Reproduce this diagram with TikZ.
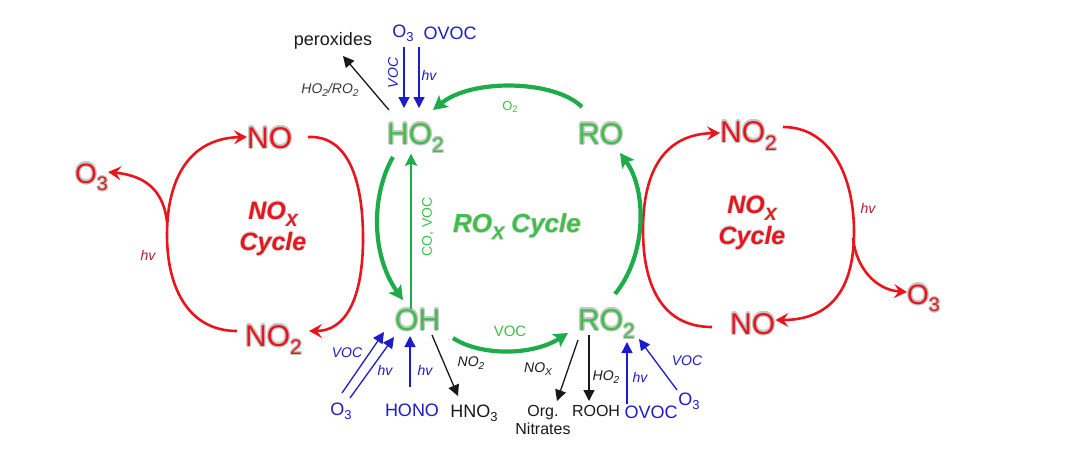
\documentclass[tikz,border=0pt]{standalone}
\usepackage{fontspec}
\setmainfont{Liberation Sans}
\usepackage{contour}
\usetikzlibrary{arrows.meta}
\definecolor{cred}{RGB}{232,22,28}
\definecolor{cgreen}{RGB}{30,172,75}
\definecolor{cgreentxt}{RGB}{62,192,72}
\definecolor{cblue}{RGB}{28,28,200}
\definecolor{cdred}{RGB}{175,30,45}
\definecolor{cblack}{RGB}{25,25,25}
\contourlength{1.1pt}
\newcommand\lowsub[1]{\raisebox{-0.28em}{\scalebox{0.7}{#1}}}
\newcommand\ssub[1]{\raisebox{-0.22em}{\scalebox{0.72}{#1}}}
\begin{document}
\begin{tikzpicture}[x=1pt,y=-1pt,
  big/.style={inner sep=0pt, anchor=base west, font=\fontsize{30}{36}\selectfont},
  redspc/.style={big, text=cred},
  grnspc/.style={big, text=cgreentxt},
  cyc/.style={inner sep=0pt, align=center, font=\fontsize{25}{29}\selectfont\bfseries\itshape},
  lab/.style={inner sep=0pt, font=\fontsize{14}{16}\selectfont\itshape},
  chem/.style={inner sep=0pt, font=\fontsize{18}{20}\selectfont},
  smallchem/.style={inner sep=0pt, font=\fontsize{16}{18}\selectfont, align=center},
  redarr/.style={draw=cred, line width=2.6pt, -{Stealth[length=13pt,width=14pt,inset=5pt]}},
  grnarr/.style={draw=cgreen, line width=4.2pt, -{Stealth[length=14pt,width=15pt,inset=3pt]}},
  grnthin/.style={draw=cgreen, line width=2.6pt, -{Stealth[length=12pt,width=12pt,inset=2pt]}},
  bluearr/.style={draw=cblue, line width=1.3pt, -{Triangle[length=11pt,width=11pt]}},
  blkarr/.style={draw=cblack, line width=1.3pt, -{Triangle[length=11pt,width=11pt]}}
]
\useasboundingbox[fill=white] (0,0) rectangle (1080,459);

% ---------- species ----------
\node[redspc] (NOl) at (247,148) {\contour{gray!45}{NO}};
\node[redspc] (NO2l) at (245,346) {\contour{gray!45}{NO\lowsub{2}}};
\node[redspc, font=\fontsize{28}{32}\selectfont] (O3l) at (75,183) {\contour{gray!45}{O\lowsub{3}}};
\node[grnspc] (HO2) at (387,144) {\contour{gray!45}{HO\lowsub{2}}};
\node[grnspc] (RO) at (578,144) {\contour{gray!45}{RO}};
\node[grnspc] (OH) at (395,330) {\contour{gray!45}{OH}};
\node[grnspc] (RO2) at (578,330) {\contour{gray!45}{RO\lowsub{2}}};
\node[redspc] (NO2r) at (720,142) {\contour{gray!45}{NO\lowsub{2}}};
\node[redspc] (NOr) at (730,334) {\contour{gray!45}{NO}};
\node[redspc, font=\fontsize{28}{32}\selectfont] (O3r) at (907,304) {\contour{gray!45}{O\lowsub{3}}};

% cycle titles
\node[cyc, text=cred] (cycl) at (273,229) {\contourlength{0.5pt}\contour{gray!30}{NO\lowsub{X}}\\[2pt]\contourlength{0.5pt}\contour{gray!30}{Cycle}};
\node[cyc, text=cred] (cycr) at (752,223) {\contourlength{0.5pt}\contour{gray!30}{NO\lowsub{X}}\\[2pt]\contourlength{0.5pt}\contour{gray!30}{Cycle}};
\node[cyc, text=cgreentxt, font=\fontsize{26}{30}\selectfont\bfseries\itshape] (cycg) at (517,227) {\contourlength{0.5pt}\contour{gray!30}{RO\lowsub{X} Cycle}};

% ---------- red NOx cycle (left) ----------
\coordinate (lb) at (167,222);
\coordinate (lt) at (309,331);
\draw[redarr] (308,137) .. controls (348,135) and (363,180) .. (363,238) .. controls (363,300) and (345,331) .. (lt);
\draw[redarr] (237,331) .. controls (190,331) and (167,290) .. (167,235) .. controls (167,175) and (192,138) .. (NOl.west |- 0,137);
\draw[redarr] (lb) .. controls (164,195) and (150,176) .. (O3l.east |- 0,172);
\node[lab, text=cdred] (hvl) at (148,255) {hv};

% ---------- red NOx cycle (right) ----------
\coordinate (rb) at (853,238);
\draw[redarr] (712,327) .. controls (665,327) and (643,290) .. (643,230) .. controls (643,170) and (665,134) .. (NO2r.west |- 0,133);
\draw[redarr] (783,127) .. controls (830,127) and (854,175) .. (854,232) .. controls (854,290) and (830,320) .. (NOr.east |- 0,320);
\draw[redarr] (rb) .. controls (856,268) and (876,290) .. (O3r.west |- 0,292);
\node[lab, text=cdred] (hvr) at (868,208) {hv};

% ---------- green ROx cycle ----------
\draw[grnarr] (582,107) .. controls (555,80) and (472,78) .. (433,110);
\node[inner sep=0pt, text=cgreentxt, font=\fontsize{13}{15}\selectfont] (o2lab) at (510,107) {O\ssub{2}};
\draw[grnarr] (393,157) .. controls (371,195) and (371,255) .. (403,300);
\draw[grnthin] (OH.north -| 411,0) -- (HO2.south -| 411,0);
\node[inner sep=0pt, text=cgreentxt, font=\fontsize{14}{16}\selectfont, rotate=90] (covoc) at (428,227) {CO, VOC};
\draw[grnarr] (453,338) .. controls (480,356) and (532,356) .. (568,333);
\node[inner sep=0pt, text=cgreentxt, font=\fontsize{15}{17}\selectfont] (voclab) at (510,331) {VOC};
\draw[grnarr] (615,294) .. controls (647,255) and (647,190) .. (620,153);

% ---------- top of HO2 ----------
\node[chem, text=cblue] (O3t) at (403,33) {O\ssub{3}};
\node[chem, text=cblue] (OVOCt) at (450,33) {OVOC};
\node[chem, text=cblack] (perox) at (333,41) {peroxides};
\coordinate (t1) at (404,108);
\coordinate (t2) at (419,108);
\draw[bluearr] (404,47) -- (t1);
\draw[bluearr] (419,47) -- (t2);
\node[lab, text=cblue, rotate=90] (vocT) at (393,73) {VOC};
\node[lab, text=cblue] (hvT) at (429,75) {hv};
\coordinate (px) at (389,110);
\draw[blkarr] (px) -- (343,56);
\node[lab, text=cblack!85] (hr) at (330,90) {HO\ssub{2}/RO\ssub{2}};

% ---------- below OH ----------
\node[chem, text=cblue] (O3b) at (341,411) {O\ssub{3}};
\node[chem, text=cblue] (HONO) at (412,410) {HONO};
\node[chem, text=cblack] (HNO3) at (474,413) {HNO\ssub{3}};
\draw[bluearr] (342,393) -- (384,332);
\draw[bluearr] (350,398) -- (394,337);
\node[lab, text=cblue] (vocO) at (347,353) {VOC};
\node[lab, text=cblue] (hvO) at (385,370) {hv};
\draw[bluearr] (410,387) -- (410,336);
\node[lab, text=cblue] (hvH) at (425,370) {hv};
\draw[blkarr] (432,335) -- (458,396);
\node[lab, text=cblack] (no2lab) at (471,363) {NO\ssub{2}};

% ---------- below RO2 ----------
\node[smallchem, text=cblack] (orgn) at (543,420) {Org.\\Nitrates};
\node[smallchem, text=cblack] (ROOH) at (596,411) {ROOH};
\node[chem, text=cblue] (OVOCb) at (651,412) {OVOC};
\node[chem, text=cblue] (O3c) at (689,401) {O\ssub{3}};
\draw[blkarr] (578,340) -- (557,401);
\node[lab, text=cblack] (noxlab) at (538,369) {NO\ssub{X}};
\draw[blkarr] (589,335) -- (589,401);
\node[lab, text=cblack] (ho2lab) at (606,377) {HO\ssub{2}};
\draw[bluearr] (627,404) -- (627,342);
\node[lab, text=cblue] (hvR) at (640,377) {hv};
\draw[bluearr] (677,390) -- (639,339);
\node[lab, text=cblue] (vocR) at (687,361) {VOC};
\end{tikzpicture}
\end{document}
